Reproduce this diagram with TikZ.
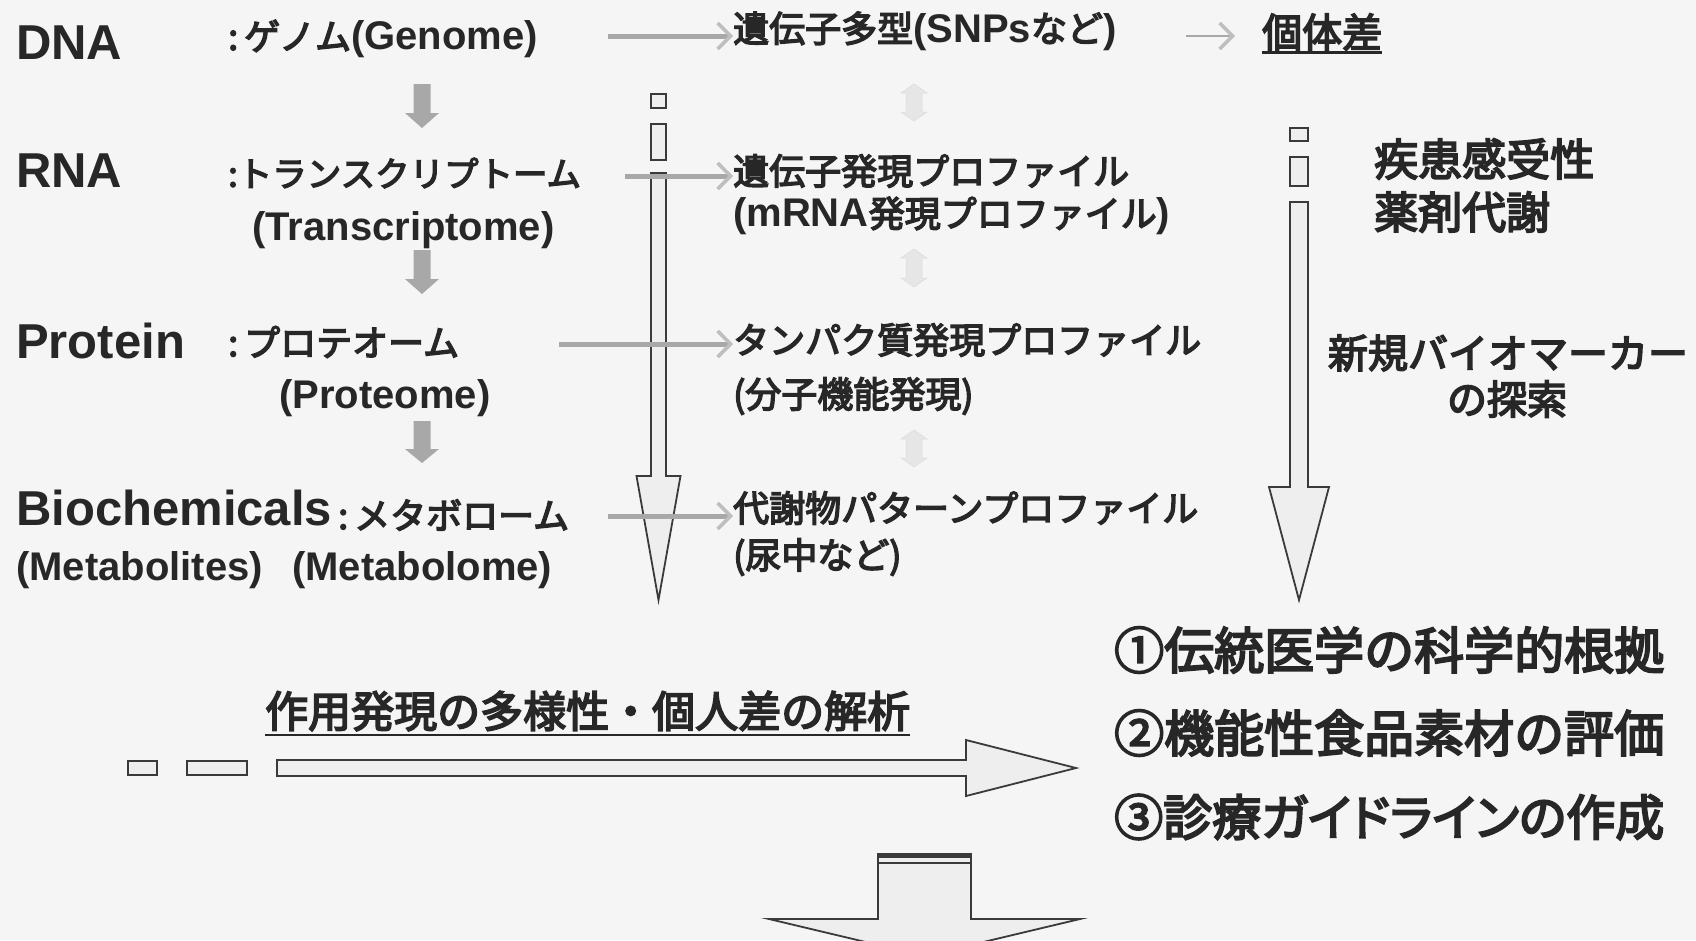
\documentclass[tikz,border=0pt]{standalone}
\usepackage{fontspec}
\setmainfont{Liberation Sans}
\newfontfamily\jp[FakeBold=4]{Noto Sans CJK JP}
\newfontfamily\jpp[FakeBold=4,CharacterWidth=AlternateProportional]{Noto Sans CJK JP}
\usetikzlibrary{arrows.meta}
\definecolor{bg}{HTML}{F5F5F5}
\definecolor{ink}{HTML}{272727}
\definecolor{garrow}{HTML}{A8A8A8}
\definecolor{ghead}{HTML}{BEBEBE}
\definecolor{faint}{HTML}{E6E6E6}
\definecolor{hollowfill}{HTML}{EEEEEE}
\definecolor{hollowline}{HTML}{3A3A3A}
\newcommand\jtxt[2][36]{{\jp\fontsize{#1}{#1}\selectfont #2}}
\newcommand\lb[1]{{\bfseries\fontsize{40}{44}\selectfont #1}}
\newcommand\blockdown[7]{\path[#1] ({#2-#6},#3) -- ({#2+#6},#3) -- ({#2+#6},#4) -- ({#2+#7},#4) -- (#2,#5) -- ({#2-#7},#4) -- ({#2-#6},#4) -- cycle;}
\newcommand\blockright[7]{\path[#1] (#3,{#2-#6}) -- (#3,{#2+#6}) -- (#4,{#2+#6}) -- (#4,{#2+#7}) -- (#5,#2) -- (#4,{#2-#7}) -- (#4,{#2-#6}) -- cycle;}
\newcommand\blockupdown[7]{\path[#1] (#2,#3) -- ({#2+#6},{#3+#7}) -- ({#2+#5},{#3+#7}) -- ({#2+#5},{#4-#7}) -- ({#2+#6},{#4-#7}) -- (#2,#4) -- ({#2-#6},{#4-#7}) -- ({#2-#5},{#4-#7}) -- ({#2-#5},{#3+#7}) -- ({#2-#6},{#3+#7}) -- cycle;}
\tikzset{
  big/.style={font=\fontsize{49}{52}\selectfont\bfseries, text=ink, inner sep=0pt, anchor=west},
  lat/.style={font=\fontsize{40}{44}\selectfont, text=ink, inner sep=0pt, anchor=west},
  jtx/.style={font=\jp\fontsize{#1}{#1}\selectfont, text=ink, inner sep=0pt, anchor=west},
  garr/.style={draw=garrow, line width=5pt, -{Straight Barb[length=13pt,width=26pt,line width=3.5pt,color=ghead]}},
  gblock/.style={fill=garrow},
  fblock/.style={fill=faint, draw=faint!90!gray, line width=0.5pt},
  hollow/.style={draw=hollowline, line width=1.8pt, fill=hollowfill, line join=miter},
  uline/.style={draw=ink, line width=2.5pt}
}
\begin{document}
\begin{tikzpicture}[x=1pt,y=-1pt]
\fill[bg] (0,0) rectangle (1696,940);
\useasboundingbox (0,0) rectangle (1696,940);

% left column
\node[big] (dna) at (16,43) {DNA};
\node[lat] (genome) at (228,39) {\jtxt{:\,ゲノム}\lb{(Genome)}};
\node[big] (rna) at (16,171) {RNA};
\node[lat] (transJ) at (228,173) {\jtxt[34.5]{:トランスクリプトーム}};
\node[lat] (transE) at (252,230) {\lb{(Transcriptome)}};
\node[big] (protein) at (16,341) {Protein};
\node[lat] (protJ) at (228,342) {\jtxt{:\,プロテオーム}};
\node[lat] (protE) at (279,398) {\lb{(Proteome)}};
\node[big] (bioc) at (16,508) {Biochemicals};
\node[lat] (metJ) at (338,515) {\jtxt{:\,メタボローム}};
\node[lat] (metlE) at (16,570) {\lb{(Metabolites)}};
\node[lat] (metbE) at (292,570) {\lb{(Metabolome)}};

% grey down arrows in left column
\blockdown{gblock}{422}{84}{113}{128}{8.5}{17}
\blockdown{gblock}{422}{250}{279}{294}{8.5}{17}
\blockdown{gblock}{422}{421}{449}{463}{8.5}{17}

% faint double arrows in middle column
\blockupdown{fblock}{914}{84}{121}{8}{13}{9}
\blockupdown{fblock}{914}{249}{287}{8}{13}{9}
\blockupdown{fblock}{914}{430}{467}{8}{13}{9}

% left hollow arrow
\draw[hollow] (651,94) rectangle (666,108);
\draw[hollow] (651,124) rectangle (666,160);
\blockdown{hollow}{658.5}{173}{476}{600}{7.5}{22}

% right hollow arrow
\draw[hollow] (1290,128) rectangle (1308,141);
\draw[hollow] (1290,157) rectangle (1308,186);
\blockdown{hollow}{1299}{202}{487}{600}{9}{30}

% middle column
\node[lat] (snp) at (733,31) {\jtxt{遺伝子多型}\lb{(SNPs}\jtxt{など}\lb{)}};
\node[lat] (mrna1) at (733,171) {\jtxt{遺伝子発現プロファイル}};
\node[lat] (mrna2) at (733,216) {\lb{(mRNA}\jtxt{発現プロファイル}\lb{)}};
\node[lat] (prot1) at (733,340) {\jtxt{タンパク質発現プロファイル}};
\node[lat] (prot2) at (733,396) {\jtxt{(分子機能発現)}};
\node[lat] (meta1) at (733,508) {\jtxt{代謝物パターンプロファイル}};
\node[lat] (meta2) at (733,557) {\jtxt{(尿中など)}};

% individual differences
\node[jtx=40] (kotai) at (1262,32) {個体差};
\draw[uline] ([yshift=-2pt]kotai.south west) -- ([yshift=-2pt]kotai.south east);

% grey connectors
\coordinate (g1) at (608,36);
\coordinate (g2) at (625,176);
\coordinate (g3) at (559,344);
\coordinate (g4) at (608,516);
\coordinate (g5) at (1186,36);
\draw[garr] (g1) -- (snp.west |- g1);
\draw[garr] (g2) -- (mrna1.west |- g2);
\draw[garr] (g3) -- (prot1.west |- g3);
\draw[garr] (g4) -- (meta1.west |- g4);
\draw[garr, line width=2.5pt, shorten >=27pt] (g5) -- (kotai.west |- g5);

% right column texts
\node[jtx=44] (shik) at (1374,159) {疾患感受性};
\node[jtx=44] (yaku) at (1374,212) {薬剤代謝};
\node[jtx=40, anchor=center] (bio1) at (1508,353) {新規バイオマーカー};
\node[jtx=40, anchor=center] (bio2) at (1507,399) {の探索};

% bottom list
\node[jtx=50] (l1) at (1114,650) {①伝統医学の科学的根拠};
\node[jtx=50] (l2) at (1114,733) {②機能性食品素材の評価};
\node[jtx=50, font=\jpp\fontsize{49}{49}\selectfont] (l3) at (1114,817) {③診療ガイドラインの作成};

% analysis title
\node[jtx=43] (anal) at (265,711) {作用発現の多様性・個人差の解析};
\draw[uline] ([yshift=-4pt]anal.south west) -- ([yshift=-4pt]anal.south east);

% horizontal hollow arrow
\draw[hollow] (128,761) rectangle (157,775);
\draw[hollow] (187,761) rectangle (247,775);
\blockright{hollow}{768}{277}{966}{1076}{8}{28}

% bottom hollow arrow
\blockdown{hollow}{924.5}{854}{919}{956}{46.5}{155.5}
\draw[draw=hollowline, line width=3pt] (878,856) -- (971,856);
\draw[draw=hollowline, line width=1.5pt] (878,863) -- (971,863);
\end{tikzpicture}
\end{document}
